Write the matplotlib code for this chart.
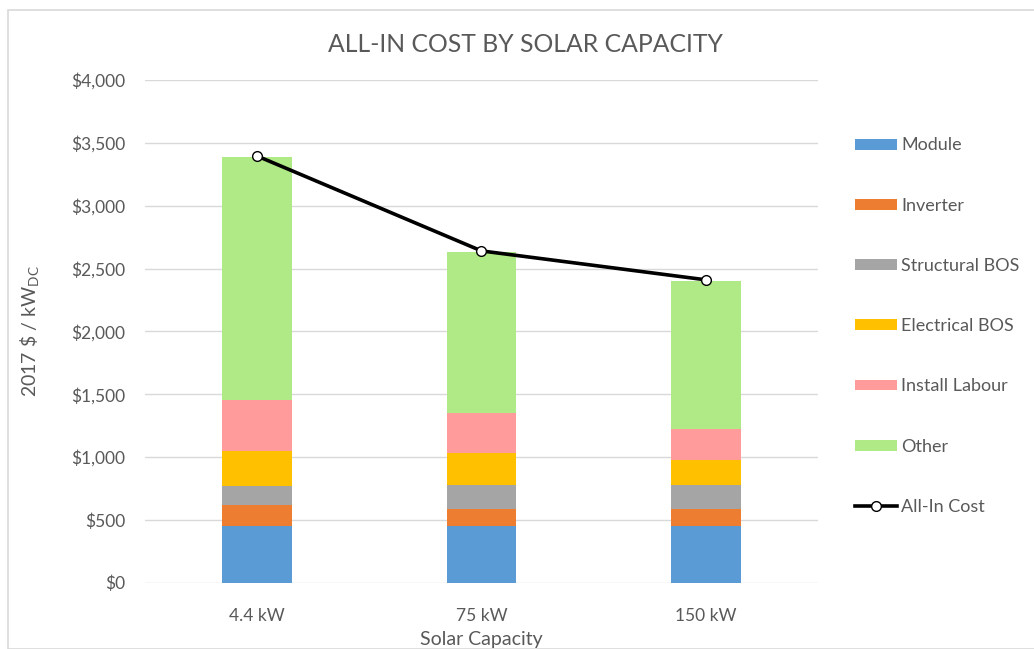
import matplotlib
matplotlib.use("Agg")
import matplotlib.pyplot as plt
from matplotlib.patches import Rectangle, Patch
from matplotlib.lines import Line2D
from matplotlib.ticker import FuncFormatter
import numpy as np

categories = ["4.4 kW", "75 kW", "150 kW"]
series_names = ["Module", "Inverter", "Structural BOS", "Electrical BOS", "Install Labour", "Other"]
module = [450, 450, 450]
inverter = [170, 135, 135]
structural_bos = [150, 195, 195]
electrical_bos = [280, 250, 193]
install_labour = [400, 320, 250]
other = [1935, 1280, 1175]
all_in_cost = [3395, 2640, 2410]
yticks = [0, 500, 1000, 1500, 2000, 2500, 3000, 3500, 4000]

colors = ["#5B9BD5", "#ED7D31", "#A5A5A5", "#FFC000", "#FF9B9B", "#B0EA87"]
text_color = "#595959"
grid_color = "#D9D9D9"

plt.rcParams['font.family'] = ['Lato', 'DejaVu Sans']
plt.rcParams['mathtext.fontset'] = 'custom'
plt.rcParams['mathtext.rm'] = 'Lato'

W, H = 1034, 649
fig = plt.figure(figsize=(W / 100, H / 100), dpi=100)
fig.patches.append(Rectangle((8 / W, 0), (W - 8) / W + 0.01, (H - 10) / H, transform=fig.transFigure,
                             fill=False, edgecolor="#D9D9D9", linewidth=1.2))

left, right = 145 / W, 818 / W
bottom, top = (H - 582.7) / H, (H - 80) / H
ax = fig.add_axes([left, bottom, right - left, top - bottom])

x = np.arange(len(categories))
series = [module, inverter, structural_bos, electrical_bos, install_labour, other]
base = np.zeros(len(categories))
for name, vals, c in zip(series_names, series, colors):
    ax.bar(x, vals, width=0.31, bottom=base, color=c, linewidth=0, zorder=3)
    base = base + np.array(vals)

ax.plot(x, all_in_cost, color="black", linewidth=2.6, marker="o", markersize=7,
        markerfacecolor="white", markeredgecolor="black", markeredgewidth=1.0, zorder=4)

ax.set_xlim(-0.5, 2.5)
ax.set_ylim(0, 4000)
ax.set_yticks(yticks)
ax.yaxis.set_major_formatter(FuncFormatter(lambda v, p: "${:,.0f}".format(v)))
ax.set_xticks(x)
ax.set_xticklabels(categories)
ax.grid(axis="y", color=grid_color, linewidth=1.0, zorder=0)
ax.set_axisbelow(True)
for s in ax.spines.values():
    s.set_visible(False)
ax.tick_params(axis="both", length=0, colors=text_color)
ax.tick_params(axis="y", pad=14, labelsize=12.5)
ax.tick_params(axis="x", pad=18, labelsize=12.5)

ax.set_xlabel("Solar Capacity", fontsize=14, color=text_color, labelpad=5)
ax.set_ylabel("2017 \\$ / kW$_{\\mathregular{DC}}$", fontsize=14, color=text_color, labelpad=21)

fig.text(525 / W, 1 - 45 / H, "ALL-IN COST BY SOLAR CAPACITY", ha="center", va="center",
         fontsize=17.8, color=text_color)

handles = [Patch(facecolor=c, edgecolor="none") for c in colors]
handles.append(Line2D([], [], color="black", linewidth=2.6, marker="o", markersize=7,
                      markerfacecolor="white", markeredgecolor="black", markeredgewidth=1.0))
labels = series_names + ["All-In Cost"]
leg = fig.legend(handles, labels, loc="upper left", bbox_to_anchor=(855 / W, 1 - 137.5 / H),
                 frameon=False, fontsize=13, labelcolor=text_color,
                 handlelength=2.35, handleheight=0.55, handletextpad=0.2, labelspacing=2.45,
                 borderpad=0, borderaxespad=0)

fig.savefig("out.png", dpi=100)
